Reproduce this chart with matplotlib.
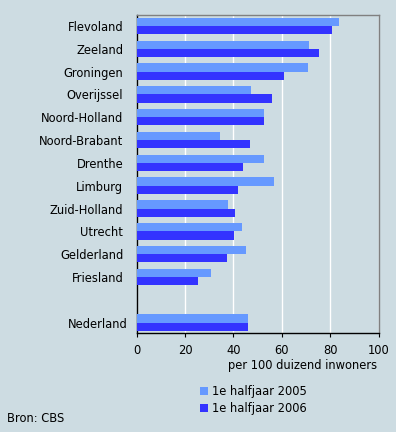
import matplotlib
matplotlib.use("Agg")
import matplotlib.pyplot as plt
import matplotlib.transforms as mtransforms
import numpy as np

categories = ["Flevoland", "Zeeland", "Groningen", "Overijssel", "Noord-Holland",
              "Noord-Brabant", "Drenthe", "Limburg", "Zuid-Holland", "Utrecht",
              "Gelderland", "Friesland", "Nederland"]
values_2005 = [83.4, 71.1, 70.6, 47.2, 52.5, 34.4, 52.5, 56.7, 37.7, 43.5, 45.1, 30.7, 46.0]
values_2006 = [80.5, 75.2, 60.8, 55.8, 52.5, 46.8, 43.9, 41.8, 40.6, 40.2, 37.3, 25.4, 46.0]
series_labels = ["1e halfjaar 2005", "1e halfjaar 2006"]
xticks = [0, 20, 40, 60, 80, 100]

bg = "#cddce2"
c05 = "#6699ff"
c06 = "#3333ff"

plt.rcParams['font.family'] = ['DejaVu Sans']
fig = plt.figure(figsize=(3.96, 4.32), dpi=100, facecolor=bg)
ax = fig.add_axes([0.3447, 0.2284, 0.957 - 0.3447, 0.9653 - 0.2284])
ax.set_facecolor(bg)

pos = np.array(list(range(12)) + [13], dtype=float)
h = 0.36
ax.barh(pos - h / 2, values_2005, height=h, color=c05, label=series_labels[0], zorder=3)
ax.barh(pos + h / 2, values_2006, height=h, color=c06, label=series_labels[1], zorder=3)

ax.set_ylim(13.47, -0.48)
ax.set_xlim(0, 100)
ax.set_yticks(pos)
ax.set_yticklabels(categories, fontsize=8.3)
ax.set_xticks(xticks)
ax.set_xticklabels([str(t) for t in xticks], fontsize=8.3)
ax.tick_params(axis='y', length=0, pad=9.5)
ax.tick_params(axis='x', length=3, pad=5, direction='out')
ax.grid(axis='x', color='white', linewidth=1, zorder=0)
ax.set_axisbelow(True)
for s in ['left', 'bottom']:
    ax.spines[s].set_color('black')
    ax.spines[s].set_linewidth(1)
for s in ['top', 'right']:
    ax.spines[s].set_color('#808080')
    ax.spines[s].set_linewidth(1)

# Nederland label sits a little closer to the axis in the reference
lbl = ax.get_yticklabels()[-1]
lbl.set_transform(lbl.get_transform() + mtransforms.ScaledTranslation(4 / 100, 0, fig.dpi_scale_trans))

fig.text(377 / 396, 1 - 366 / 432, "per 100 duizend inwoners", fontsize=8.3,
         ha='right', va='center')

leg = fig.legend(loc='upper left', bbox_to_anchor=(190 / 396, 1 - 375 / 432),
                 frameon=False, fontsize=8.3, handlelength=0.7, handleheight=0.7,
                 handletextpad=0.35, labelspacing=0.35)

fig.text(7 / 396, 1 - 419 / 432, "Bron: CBS", fontsize=8.3, ha='left', va='center')

fig.savefig("out.png", dpi=100, facecolor=bg)
